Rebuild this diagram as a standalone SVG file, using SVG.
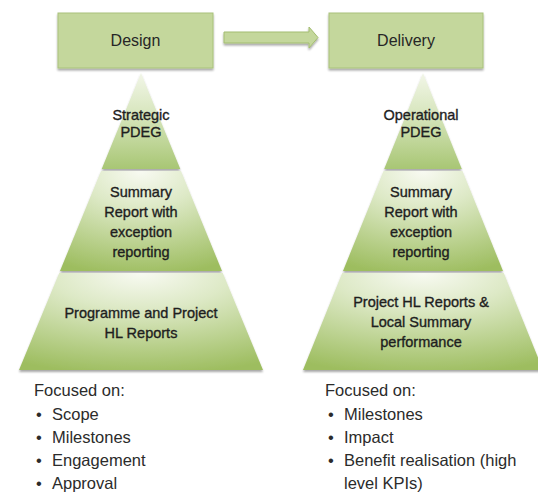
<svg xmlns="http://www.w3.org/2000/svg" width="538" height="503" viewBox="0 0 538 503">
  <style>
    .box { fill: #c4d79c; stroke: #a9c27a; stroke-width: 1; }
    .lbl { font-family: "Liberation Sans", Arial, sans-serif; fill: #262626; text-anchor: middle; }
    .box-t { font-size: 16px; }
    .tier-t { font-size: 14.5px; fill: #1e1e1e; stroke: #1e1e1e; stroke-width: 0.35; }
    .list { font-family: "Liberation Sans", Arial, sans-serif; font-size: 16.5px; fill: #2b2b2b; }
  </style>
  <defs>
    <linearGradient id="gTop" x1="0" y1="0" x2="0" y2="1">
      <stop offset="0" stop-color="#f2f6e8"/>
      <stop offset="0.45" stop-color="#d6e5bb"/>
      <stop offset="1" stop-color="#a8c674"/>
    </linearGradient>
    <radialGradient id="gTier" cx="0.5" cy="0" r="1.05" fx="0.5" fy="0">
      <stop offset="0" stop-color="#f8faf2"/>
      <stop offset="0.35" stop-color="#dde9c6"/>
      <stop offset="1" stop-color="#9dbd5f"/>
    </radialGradient>
    <filter id="shadow" x="-10%" y="-10%" width="120%" height="130%">
      <feGaussianBlur in="SourceAlpha" stdDeviation="1.2"/>
      <feOffset dy="2" result="b"/>
      <feComponentTransfer><feFuncA type="linear" slope="0.35"/></feComponentTransfer>
      <feMerge><feMergeNode/><feMergeNode in="SourceGraphic"/></feMerge>
    </filter>
  </defs>

  <rect width="538" height="503" fill="#ffffff"/>

  <!-- stage boxes -->
  <g id="design">
    <rect class="box" x="58" y="13" width="155" height="55" filter="url(#shadow)"/>
    <text class="lbl box-t" x="135.5" y="46">Design</text>
  </g>
  <g id="delivery">
    <rect class="box" x="329" y="13" width="154" height="55" filter="url(#shadow)"/>
    <text class="lbl box-t" x="406" y="46">Delivery</text>
  </g>

  <!-- connectors -->
  <g id="connectors">
    <polygon points="224,32 309,32 309,27 318,37.5 309,48 309,43 224,43" fill="#c4d79c" stroke="#a3bd70" stroke-width="1" filter="url(#shadow)"/>
  </g>

  <!-- design pyramid -->
  <g id="design-pyramid">
    <g id="strategic-pdeg">
      <polygon points="141,73 180.3,169 101.7,169" fill="url(#gTop)" filter="url(#shadow)"/>
      <text class="lbl tier-t" x="141" y="120">Strategic</text>
      <text class="lbl tier-t" x="141" y="137">PDEG</text>
    </g>
    <g id="design-summary">
      <polygon points="101,171 181,171 222,271 60,271" fill="url(#gTier)" filter="url(#shadow)"/>
      <text class="lbl tier-t" x="141" y="197">Summary</text>
      <text class="lbl tier-t" x="141" y="217">Report with</text>
      <text class="lbl tier-t" x="141" y="237">exception</text>
      <text class="lbl tier-t" x="141" y="257">reporting</text>
    </g>
    <g id="design-reports">
      <polygon points="59.2,273 222.8,273 263,370 19,370" fill="url(#gTier)" filter="url(#shadow)"/>
      <text class="lbl tier-t" x="141" y="318">Programme and Project</text>
      <text class="lbl tier-t" x="141" y="338">HL Reports</text>
    </g>
  </g>

  <!-- delivery pyramid -->
  <g id="delivery-pyramid">
    <g id="operational-pdeg">
      <polygon points="423,73 461.8,169 384.2,169" fill="url(#gTop)" filter="url(#shadow)"/>
      <text class="lbl tier-t" x="421" y="120">Operational</text>
      <text class="lbl tier-t" x="421" y="137">PDEG</text>
    </g>
    <g id="delivery-summary">
      <polygon points="383.5,171 462.5,171 503,271 343,271" fill="url(#gTier)" filter="url(#shadow)"/>
      <text class="lbl tier-t" x="421" y="197">Summary</text>
      <text class="lbl tier-t" x="421" y="217">Report with</text>
      <text class="lbl tier-t" x="421" y="237">exception</text>
      <text class="lbl tier-t" x="421" y="257">reporting</text>
    </g>
    <g id="delivery-reports">
      <polygon points="342.2,273 503.8,273 543,370 303,370" fill="url(#gTier)" filter="url(#shadow)"/>
      <text class="lbl tier-t" x="421" y="307">Project HL Reports &amp;</text>
      <text class="lbl tier-t" x="421" y="327">Local Summary</text>
      <text class="lbl tier-t" x="421" y="347">performance</text>
    </g>
  </g>

  <!-- focus lists -->
  <g id="design-focus" class="list">
    <text x="34" y="396">Focused on:</text>
    <text x="36" y="420">•</text><text x="52" y="420">Scope</text>
    <text x="36" y="443">•</text><text x="52" y="443">Milestones</text>
    <text x="36" y="466">•</text><text x="52" y="466">Engagement</text>
    <text x="36" y="489">•</text><text x="52" y="489">Approval</text>
  </g>
  <g id="delivery-focus" class="list">
    <text x="325" y="396">Focused on:</text>
    <text x="328" y="420">•</text><text x="344" y="420">Milestones</text>
    <text x="328" y="443">•</text><text x="344" y="443">Impact</text>
    <text x="328" y="466">•</text><text x="344" y="466">Benefit realisation (high</text>
    <text x="344" y="489">level KPIs)</text>
  </g>
</svg>
